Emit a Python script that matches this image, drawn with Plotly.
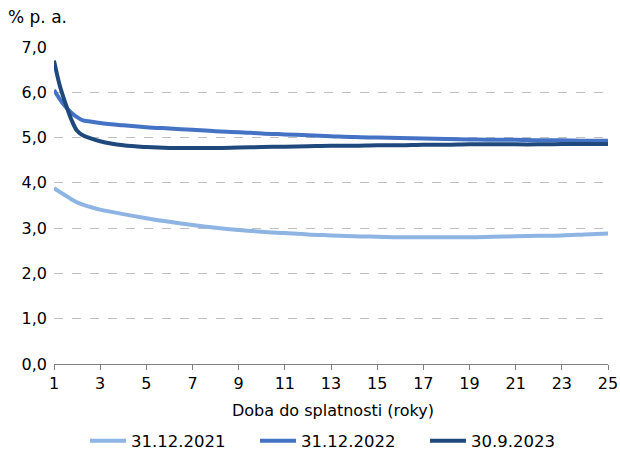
import plotly.graph_objects as go

maturity = [1, 1.25, 1.5, 1.75, 2, 2.25, 2.5, 3, 4, 5, 6, 7, 8, 9, 10, 11, 12, 13, 14, 15, 16, 17, 18, 19, 20, 21, 22, 23, 24, 25]

y2021 = [3.88, 3.80, 3.72, 3.64, 3.57, 3.52, 3.48, 3.41, 3.31, 3.22, 3.14, 3.07, 3.01, 2.96, 2.92, 2.89, 2.86, 2.84, 2.82, 2.81, 2.80, 2.80, 2.80, 2.80, 2.81, 2.82, 2.83, 2.84, 2.86, 2.88]
y2022 = [6.05, 5.85, 5.68, 5.55, 5.45, 5.38, 5.36, 5.32, 5.27, 5.23, 5.20, 5.17, 5.14, 5.12, 5.09, 5.07, 5.05, 5.03, 5.01, 5.00, 4.99, 4.98, 4.97, 4.96, 4.95, 4.95, 4.94, 4.94, 4.93, 4.93]
y2023 = [6.70, 6.15, 5.75, 5.40, 5.15, 5.05, 5.00, 4.92, 4.83, 4.79, 4.77, 4.77, 4.77, 4.78, 4.79, 4.80, 4.81, 4.82, 4.82, 4.83, 4.83, 4.84, 4.84, 4.85, 4.85, 4.85, 4.85, 4.86, 4.86, 4.86]

names = ["31.12.2021", "31.12.2022", "30.9.2023"]
colors = ["#8DB4E2", "#4472C4", "#1F497D"]

fig = go.Figure()
for name, ys, c in zip(names, [y2021, y2022, y2023], colors):
    fig.add_trace(go.Scatter(x=maturity, y=ys, name=name, mode="lines",
                             line=dict(color=c, width=4, shape="spline")))

font = dict(family="DejaVu Sans, Verdana, sans-serif", size=16, color="#000000")
fig.update_layout(
    width=620, height=453,
    margin=dict(l=54, r=12, t=47, b=89, autoexpand=False),
    paper_bgcolor="white", plot_bgcolor="white",
    font=font,
    separators=",.",
    showlegend=True,
    legend=dict(orientation="h", x=85 / 620, xanchor="left", xref="container",
                y=12 / 453, yanchor="middle", yref="container",
                font=dict(family=font["family"], size=16.5, color="#000000"),
                itemwidth=36, entrywidth=119, entrywidthmode="pixels",
                tracegroupgap=0, traceorder="normal"),
    annotations=[
        dict(text="% p. a.", xref="paper", yref="paper", x=-0.087, y=1.058,
             xanchor="left", yanchor="bottom", showarrow=False,
             font=dict(family=font["family"], size=17, color="#000000")),
        dict(text="Doba do splatnosti (roky)", xref="paper", yref="paper", x=0.504, y=-0.148,
             xanchor="center", yanchor="middle", showarrow=False, font=font),
    ],
)
fig.update_xaxes(range=[1, 25], tickvals=list(range(1, 26, 2)), ticks="outside", ticklen=5,
                 tickcolor="#808080", showline=True, linecolor="#808080", linewidth=1,
                 showgrid=False, zeroline=False, automargin=False)
fig.update_yaxes(range=[0, 7], dtick=1, tickformat=".1f", showgrid=True,
                 gridcolor="#BFBFBF", griddash="dash", gridwidth=1, zeroline=False,
                 showline=False, ticks="", ticklabelstandoff=6, automargin=False)

fig.write_html("out.html", config={"displayModeBar": False},
               post_script="document.body.style.margin='0';document.body.style.overflow='hidden';")
